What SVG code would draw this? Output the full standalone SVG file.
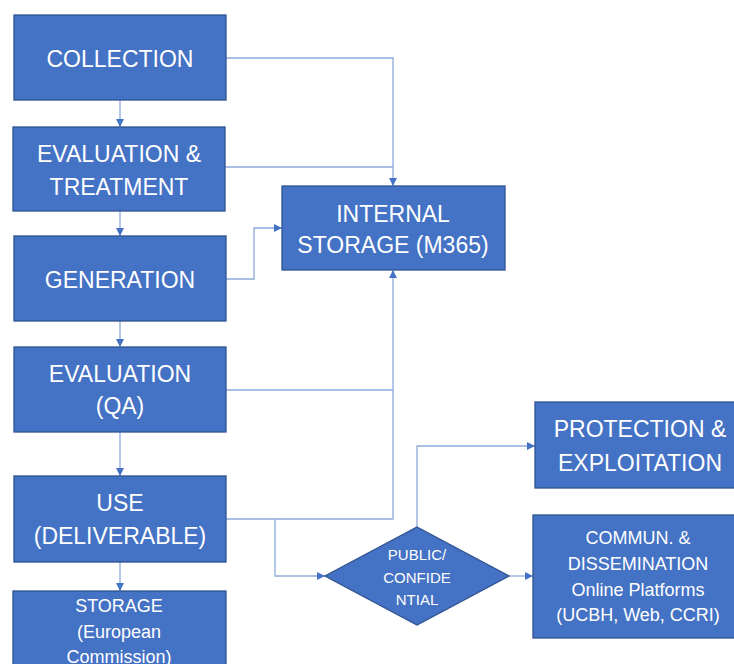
<svg xmlns="http://www.w3.org/2000/svg" width="734" height="664" viewBox="0 0 734 664">
<defs>
<marker id="arr" viewBox="0 0 10 10" refX="10" refY="5" markerWidth="8" markerHeight="8" markerUnits="userSpaceOnUse" orient="auto">
<path d="M0,0 L10,5 L0,10 z" fill="#4472C4"/>
</marker>
<style>
.box{fill:#4472C4;stroke:#2F528F;stroke-width:1.3}
.t{fill:#fff;font-family:"Liberation Sans",Arial,sans-serif;text-anchor:middle}
.big{font-size:23px}
.mid{font-size:18px}
.sm{font-size:15px}
.c{fill:none;stroke:#8FAADC;stroke-width:1.3}
</style>
</defs>
<rect width="734" height="664" fill="#fff"/>
<g id="connectors">
<path class="c" d="M120,100 V127" marker-end="url(#arr)"/>
<path class="c" d="M120,211 V236" marker-end="url(#arr)"/>
<path class="c" d="M120,321 V347" marker-end="url(#arr)"/>
<path class="c" d="M120,432 V476" marker-end="url(#arr)"/>
<path class="c" d="M120,562 V591" marker-end="url(#arr)"/>
<path class="c" d="M226,58 H393 V186" marker-end="url(#arr)"/>
<path class="c" d="M225,167 H393"/>
<path class="c" d="M226,279 H254 V228 H282" marker-end="url(#arr)"/>
<path class="c" d="M226,390 H393 V270" marker-end="url(#arr)"/>
<path class="c" d="M226,519 H393 V390"/>
<path class="c" d="M275,519 V576 H325" marker-end="url(#arr)"/>
<path class="c" d="M417,527 V446 H535" marker-end="url(#arr)"/>
<path class="c" d="M509,576 H533" marker-end="url(#arr)"/>
</g>
<g id="collection">
<rect class="box" x="14" y="15" width="212" height="85"/>
<text class="t big" x="120" y="67">COLLECTION</text>
</g>
<g id="evaluation-treatment">
<rect class="box" x="13" y="127" width="212" height="84"/>
<text class="t big" x="119" y="162">EVALUATION &amp;</text>
<text class="t big" x="119" y="195">TREATMENT</text>
</g>
<g id="generation">
<rect class="box" x="14" y="236" width="212" height="85"/>
<text class="t big" x="120" y="288">GENERATION</text>
</g>
<g id="evaluation-qa">
<rect class="box" x="14" y="347" width="212" height="85"/>
<text class="t big" x="120" y="382">EVALUATION</text>
<text class="t big" x="120" y="414">(QA)</text>
</g>
<g id="use">
<rect class="box" x="14" y="476" width="212" height="86"/>
<text class="t big" x="120" y="511">USE</text>
<text class="t big" x="120" y="544">(DELIVERABLE)</text>
</g>
<g id="storage-ec">
<rect class="box" x="13" y="591" width="213" height="80"/>
<text class="t mid" x="119" y="612">STORAGE</text>
<text class="t mid" x="119" y="638">(European</text>
<text class="t mid" x="119" y="663">Commission)</text>
</g>
<g id="internal-storage">
<rect class="box" x="282" y="186" width="223" height="84"/>
<text class="t big" x="393" y="222">INTERNAL</text>
<text class="t big" x="393" y="253">STORAGE (M365)</text>
</g>
<g id="decision">
<polygon class="box" points="417,527 509,576 417,625 325,576"/>
<text class="t sm" x="417" y="560">PUBLIC/</text>
<text class="t sm" x="417" y="583">CONFIDE</text>
<text class="t sm" x="417" y="605">NTIAL</text>
</g>
<g id="protection">
<rect class="box" x="535" y="402" width="205" height="86"/>
<text class="t big" x="640" y="437">PROTECTION &amp;</text>
<text class="t big" x="640" y="471">EXPLOITATION</text>
</g>
<g id="commun">
<rect class="box" x="533" y="515" width="207" height="123"/>
<text class="t mid" x="638" y="544">COMMUN. &amp;</text>
<text class="t mid" x="638" y="570">DISSEMINATION</text>
<text class="t mid" x="638" y="596">Online Platforms</text>
<text class="t mid" x="638" y="621">(UCBH, Web, CCRI)</text>
</g>
</svg>
